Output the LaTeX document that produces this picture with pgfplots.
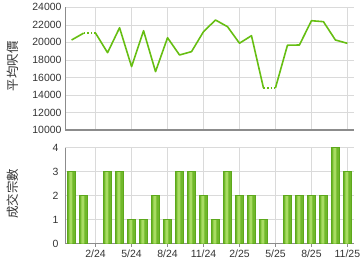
\documentclass[border=0pt]{standalone}
\usepackage{pgfplots}
\usepackage{pgfplotstable}
\pgfplotsset{compat=1.18}
\usepackage{fontspec}
\setmainfont{Liberation Sans}
\newfontfamily\cjk{Noto Sans CJK TC}
\definecolor{linegreen}{HTML}{66BE12}
\definecolor{gridgray}{HTML}{DADADA}
\definecolor{axisgray}{HTML}{8C8C8C}
\definecolor{txt}{HTML}{333333}
\definecolor{barF}{HTML}{70B82A}
\definecolor{barM}{HTML}{A8DC62}
\definecolor{barD}{HTML}{5DA81C}
\pgfplotsset{
  common/.style={
    scale only axis, width=289bp,
    xmin=-0.55, xmax=23.55,
    axis x line*=bottom, axis y line*=left,
    x axis line style={axisgray, line width=1.2pt},
    y axis line style={axisgray, line width=0.8pt},
    grid=major, major grid style={gridgray, line width=0.6pt},
    xtick={2,5,8,11,14,17,20,23},
    tick style={axisgray, line width=0.6pt},
    tick align=outside, major tick length=3bp,
    ticklabel style={font=\fontsize{10.5}{12}\selectfont, text=txt},
    scaled y ticks=false,
    /pgf/number format/assume math mode=true,
    /pgf/number format/1000 sep={},
    ylabel style={font=\cjk\fontsize{12.5}{14}\selectfont, text=txt, at={(axis description cs:-0.18,0.52)}, anchor=center},
    unbounded coords=jump,
  }
}
\pgfplotstableread{
x y
0 3
1 2
3 3
4 3
5 1
6 1
7 2
8 1
9 3
10 3
11 2
12 1
13 3
14 2
15 2
16 1
18 2
19 2
20 2
21 2
22 4
23 3
}\counts
\begin{document}
\begin{tikzpicture}
\useasboundingbox (0,0) rectangle (360bp,270bp);
\begin{axis}[common, at={(65bp,140bp)}, anchor=south west, height=122.7bp,
  ymin=10000, ymax=24000, ytick={10000,12000,...,24000},
  yticklabel style={/pgf/number format/fixed, /pgf/number format/precision=0},
  xticklabels={}, ylabel={平均呎價}, major tick length=0bp]
\addplot[linegreen, line width=1.6pt, line join=round, no marks] coordinates {
(0,20270) (1,21050) (1.5,nan) (2,21050) (3,18820) (4,21670) (5,17230) (6,21330)
(7,16660) (8,20530) (9,18560) (10,18940) (11,21220) (12,22550) (13,21790)
(14,19900) (15,20760) (16,14800) (16.5,nan) (17,14800) (18,19670) (19,19700)
(20,22470) (21,22360) (22,20270) (23,19890)};
\addplot[linegreen, line width=1.6pt, dotted, no marks] coordinates {
(1,21050) (2,21050) (2.5,nan) (16,14800) (17,14800)};
\end{axis}
\begin{axis}[common, at={(65bp,26.3bp)}, anchor=south west, height=96bp,
  ymin=0, ymax=4, ytick={0,1,2,3,4},
  xticklabels={2/24,5/24,8/24,11/24,2/25,5/25,8/25,11/25},
  ylabel={成交宗數}, ytick style={draw=none}]
\addplot[ybar, bar width=7.8bp, draw=barD, line width=0.5pt, fill=barF] table {\counts};
\addplot[ybar, bar width=3bp, bar shift=-0.6bp, draw=none, fill=barM] table[y expr=\thisrow{y}-0.02] {\counts};
\end{axis}
\end{tikzpicture}
\end{document}
